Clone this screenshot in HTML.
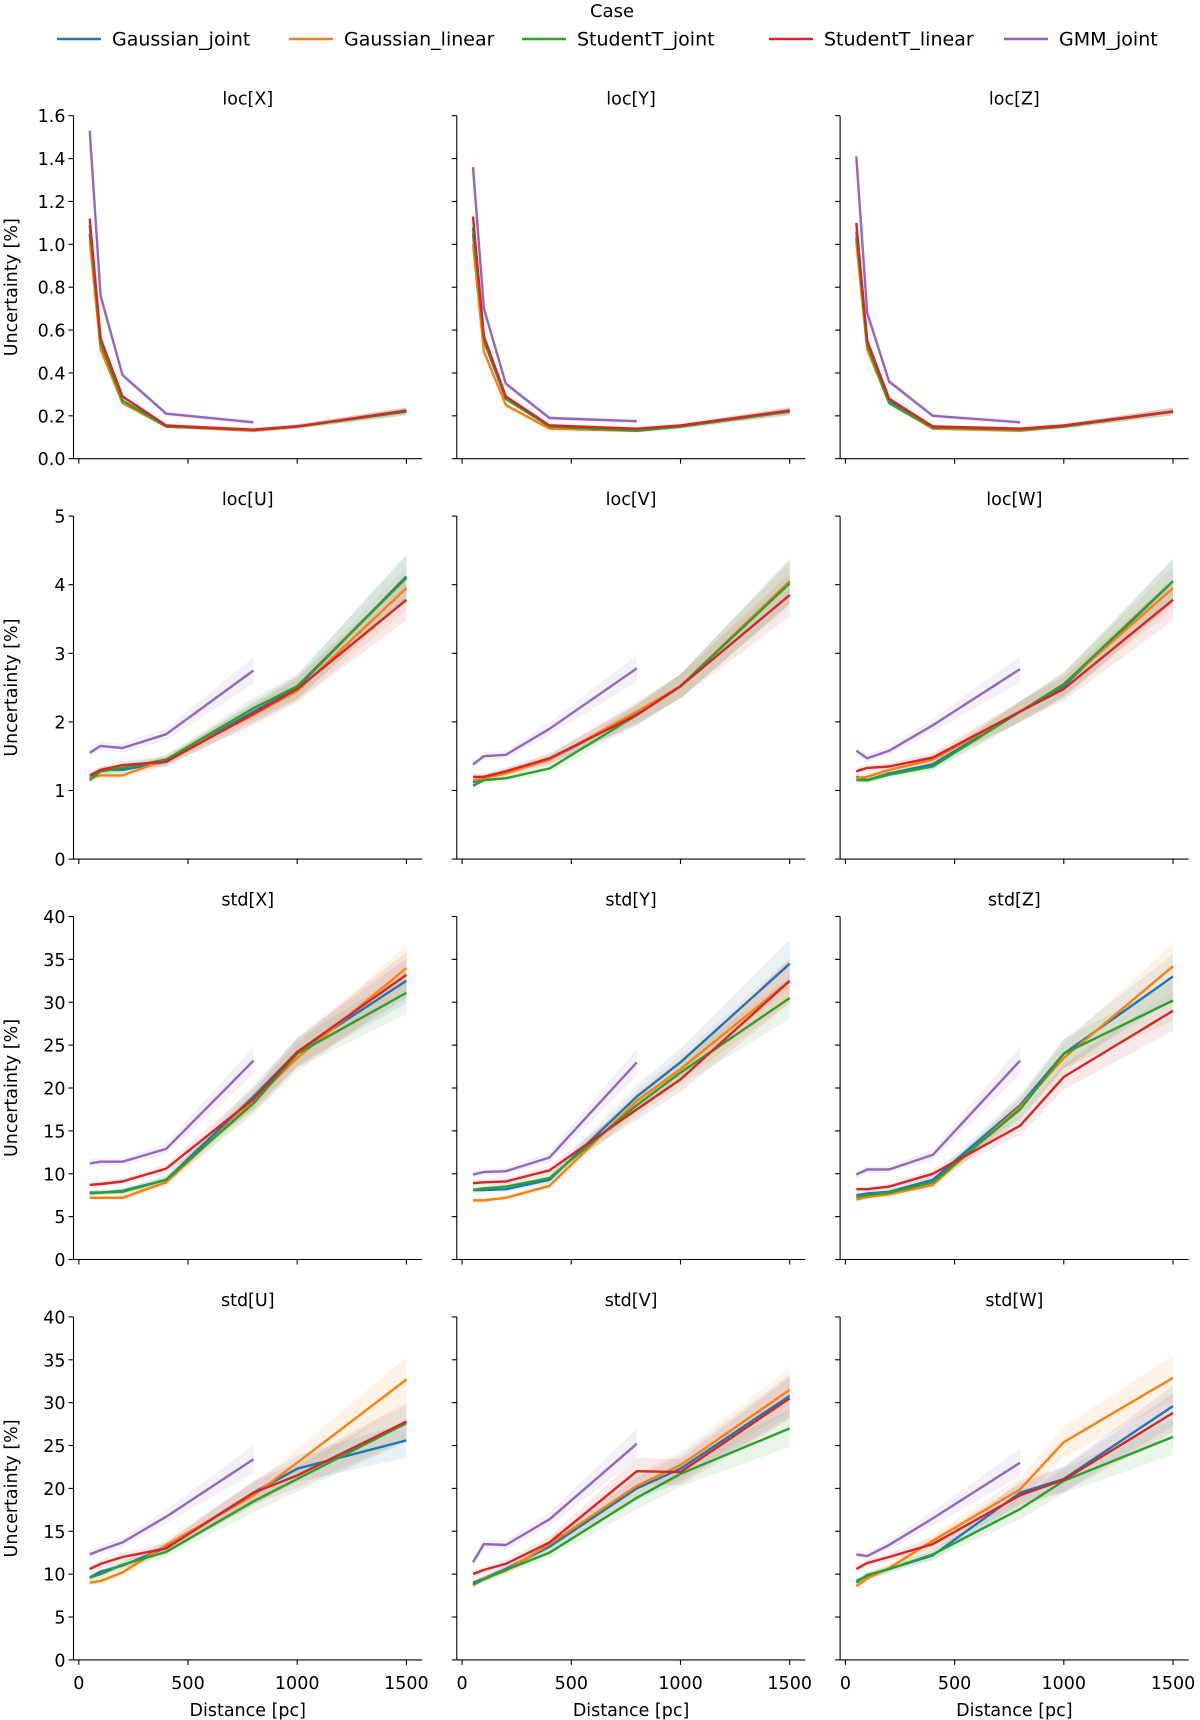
<!DOCTYPE html>
<html><head><meta charset="utf-8"><style>
html,body{margin:0;padding:0;background:#fff;}
svg{display:block;font-family:"DejaVu Sans","Liberation Sans",sans-serif;}
</style></head><body>
<svg id="fig" width="1200" height="1720" viewBox="0 0 1200 1720"></svg>
<script>
const xs = [50,100,200,400,800,1000,1500];
const seriesNames = ["Gaussian_joint","Gaussian_linear","StudentT_joint","StudentT_linear","GMM_joint"];
const colors = ["#1f77b4","#ff7f0e","#2ca02c","#d62728","#9467bd"];
const panelTitles = ["loc[X]","loc[Y]","loc[Z]","loc[U]","loc[V]","loc[W]","std[X]","std[Y]","std[Z]","std[U]","std[V]","std[W]"];
const rowTicks = [[0,0.2,0.4,0.6,0.8,1.0,1.2,1.4,1.6],[0,1,2,3,4,5],[0,5,10,15,20,25,30,35,40],[0,5,10,15,20,25,30,35,40]];
const rowDecimals = [1,0,0,0];
const xTicks = [0,500,1000,1500];
const relErr = [0.04,0.04,0.04,0.05,0.07,0.07,0.08];
const locX = [[1.05,0.53,0.27,0.15,0.135,0.15,0.22],[1.02,0.51,0.26,0.15,0.13,0.15,0.22],[1.09,0.54,0.27,0.15,0.135,0.15,0.22],[1.12,0.56,0.29,0.155,0.135,0.15,0.225],[1.53,0.76,0.39,0.21,0.17]];
const locY = [[1.05,0.55,0.28,0.155,0.135,0.15,0.22],[1.00,0.50,0.25,0.14,0.13,0.15,0.22],[1.08,0.56,0.28,0.15,0.13,0.15,0.22],[1.13,0.57,0.29,0.155,0.14,0.155,0.225],[1.36,0.70,0.35,0.19,0.175]];
const locZ = [[1.03,0.53,0.27,0.15,0.135,0.15,0.22],[1.01,0.51,0.26,0.14,0.13,0.15,0.22],[1.06,0.53,0.26,0.145,0.135,0.15,0.22],[1.10,0.55,0.28,0.15,0.14,0.155,0.22],[1.41,0.68,0.36,0.20,0.17]];
const locU = [[1.18,1.30,1.30,1.42,2.15,2.50,4.12],[1.18,1.22,1.22,1.45,2.10,2.45,3.95],[1.15,1.28,1.33,1.45,2.20,2.52,4.10],[1.22,1.30,1.37,1.42,2.12,2.48,3.78],[1.55,1.65,1.62,1.82,2.75]];
const locV = [[1.12,1.18,1.28,1.45,2.12,2.52,4.05],[1.15,1.18,1.25,1.45,2.15,2.52,4.05],[1.07,1.15,1.18,1.32,2.10,2.52,4.02],[1.20,1.20,1.28,1.47,2.10,2.52,3.85],[1.38,1.50,1.52,1.90,2.78]];
const locW = [[1.20,1.15,1.25,1.38,2.15,2.52,4.05],[1.18,1.20,1.30,1.45,2.15,2.55,3.95],[1.15,1.15,1.23,1.35,2.15,2.55,4.05],[1.28,1.33,1.35,1.48,2.15,2.48,3.78],[1.58,1.47,1.58,1.95,2.77]];
const stdX = [[7.8,7.8,8.0,9.3,19.0,24.2,32.5],[7.2,7.2,7.2,9.0,18.5,23.5,34.0],[7.7,7.8,7.9,9.3,18.2,24.0,31.1],[8.7,8.8,9.1,10.6,18.7,24.2,33.2],[11.2,11.4,11.4,12.9,23.2]];
const stdY = [[8.1,8.1,8.2,9.3,19.0,23.0,34.5],[6.9,6.9,7.2,8.6,18.5,22.2,32.5],[8.1,8.3,8.5,9.5,18.0,21.8,30.5],[8.9,9.0,9.1,10.4,17.5,21.0,32.5],[9.9,10.2,10.3,11.9,23.0]];
const stdZ = [[7.5,7.7,7.9,9.3,18.0,24.0,33.0],[7.0,7.3,7.6,8.7,17.8,23.5,34.2],[7.3,7.5,7.8,9.0,17.5,24.0,30.2],[8.2,8.2,8.5,10.0,15.6,21.3,29.0],[9.9,10.5,10.5,12.2,23.2]];
const stdU = [[9.6,10.3,11.0,13.1,19.5,22.3,25.6],[9.0,9.2,10.2,13.4,19.2,23.0,32.7],[9.6,10.0,11.1,12.6,18.5,21.1,27.6],[10.6,11.2,12.0,13.0,19.5,21.5,27.8],[12.3,12.8,13.7,16.7,23.4]];
const stdV = [[9.0,9.5,10.6,13.2,20.0,22.3,30.8],[8.7,9.5,10.4,13.5,20.3,22.7,31.5],[8.8,9.4,10.5,12.5,18.9,21.7,27.0],[10.0,10.5,11.2,13.7,22.0,21.9,30.5],[11.4,13.5,13.4,16.4,25.2]];
const stdW = [[9.2,9.8,10.6,12.2,19.5,21.1,29.6],[8.6,9.5,10.7,13.9,19.9,25.4,32.9],[9.0,9.9,10.6,12.3,17.6,20.9,26.0],[10.6,11.3,12.0,13.5,19.2,21.0,28.8],[12.3,12.1,13.4,16.5,23.0]];
const panelData = [locX,locY,locZ,locU,locV,locW,stdX,stdY,stdZ,stdU,stdV,stdW];

const NS = "http://www.w3.org/2000/svg";
const svg = document.getElementById("fig");
function mk(tag, attrs, parent){ const e=document.createElementNS(NS,tag); for(const k in attrs) e.setAttribute(k,attrs[k]); (parent||svg).appendChild(e); return e; }

const lg = mk("g",{});


const lt = mk("text",{x:612,y:17,"text-anchor":"middle","font-size":18,fill:"#000"},lg); lt.textContent="Case";


const legLineX=[57,289,522,769,1004];
seriesNames.forEach((n,i)=>{
  const g=mk("g",{},lg);
  
  
  mk("line",{x1:legLineX[i],x2:legLineX[i]+44,y1:39,y2:39,stroke:colors[i],"stroke-width":2.6},g);
  const t=mk("text",{x:legLineX[i]+55,y:45.5,"font-size":19,fill:"#000"},g); t.textContent=n;
});

const X0=78.8, XS=109.2/500, AXW=348.5, AXH=343;
for(let p=0;p<12;p++){
  const r=Math.floor(p/3), c=p%3;
  const L=73.5+383.3*c, T=115.7+400.4*r, B=T+AXH;
  const ticks=rowTicks[r], ymax=ticks[ticks.length-1];
  const xS=v=>L+(X0-73.5)+v*XS;
  const yS=v=>B-v/ymax*AXH;
  const g=mk("g",{});
  
  
  const tt=mk("text",{x:L+AXW/2,y:T-11,"text-anchor":"middle","font-size":17.5,fill:"#000"},g); tt.textContent=panelTitles[p];
  
  
  panelData[p].forEach((vals,si)=>{
    const up=vals.map((v,i)=>xS(xs[i]).toFixed(1)+","+yS(v*(1+relErr[i])).toFixed(1));
    const lo=vals.map((v,i)=>xS(xs[i]).toFixed(1)+","+yS(v*(1-relErr[i])).toFixed(1)).reverse();
    const b=mk("polygon",{points:up.concat(lo).join(" "),fill:colors[si],"fill-opacity":0.1,stroke:"none"},g);
    
    
  });
  panelData[p].forEach((vals,si)=>{
    const pts=vals.map((v,i)=>xS(xs[i]).toFixed(1)+","+yS(v).toFixed(1)).join(" ");
    const l=mk("polyline",{points:pts,fill:"none",stroke:colors[si],"stroke-width":2.4,"stroke-linejoin":"round"},g);
    
    
  });
  mk("line",{x1:L,x2:L,y1:T,y2:B,stroke:"#000","stroke-width":1.1},g);
  mk("line",{x1:L,x2:L+AXW,y1:B,y2:B,stroke:"#000","stroke-width":1.1},g);
  ticks.forEach(v=>{
    const y=yS(v);
    mk("line",{x1:L-5,x2:L,y1:y,y2:y,stroke:"#000","stroke-width":1.1},g);
    if(c===0){ const t=mk("text",{x:L-8,y:y+6.5,"text-anchor":"end","font-size":17.5,fill:"#000"},g); t.textContent=v.toFixed(rowDecimals[r]); }
  });
  xTicks.forEach(v=>{
    const x=xS(v);
    mk("line",{x1:x,x2:x,y1:B,y2:B+5,stroke:"#000","stroke-width":1.1},g);
    if(r===3){ const t=mk("text",{x:x,y:B+29,"text-anchor":"middle","font-size":17.5,fill:"#000"},g); t.textContent=v; }
  });
  if(r===3){ const t=mk("text",{x:L+AXW/2,y:B+56,"text-anchor":"middle","font-size":17.5,fill:"#000"},g); t.textContent="Distance [pc]";
    
     }
  if(c===0){ const t=mk("text",{x:0,y:0,"text-anchor":"middle","font-size":17.5,fill:"#000",transform:`translate(17,${T+AXH/2}) rotate(-90)`},g); t.textContent="Uncertainty [%]";
    
     }
}
</script>
</body></html>
